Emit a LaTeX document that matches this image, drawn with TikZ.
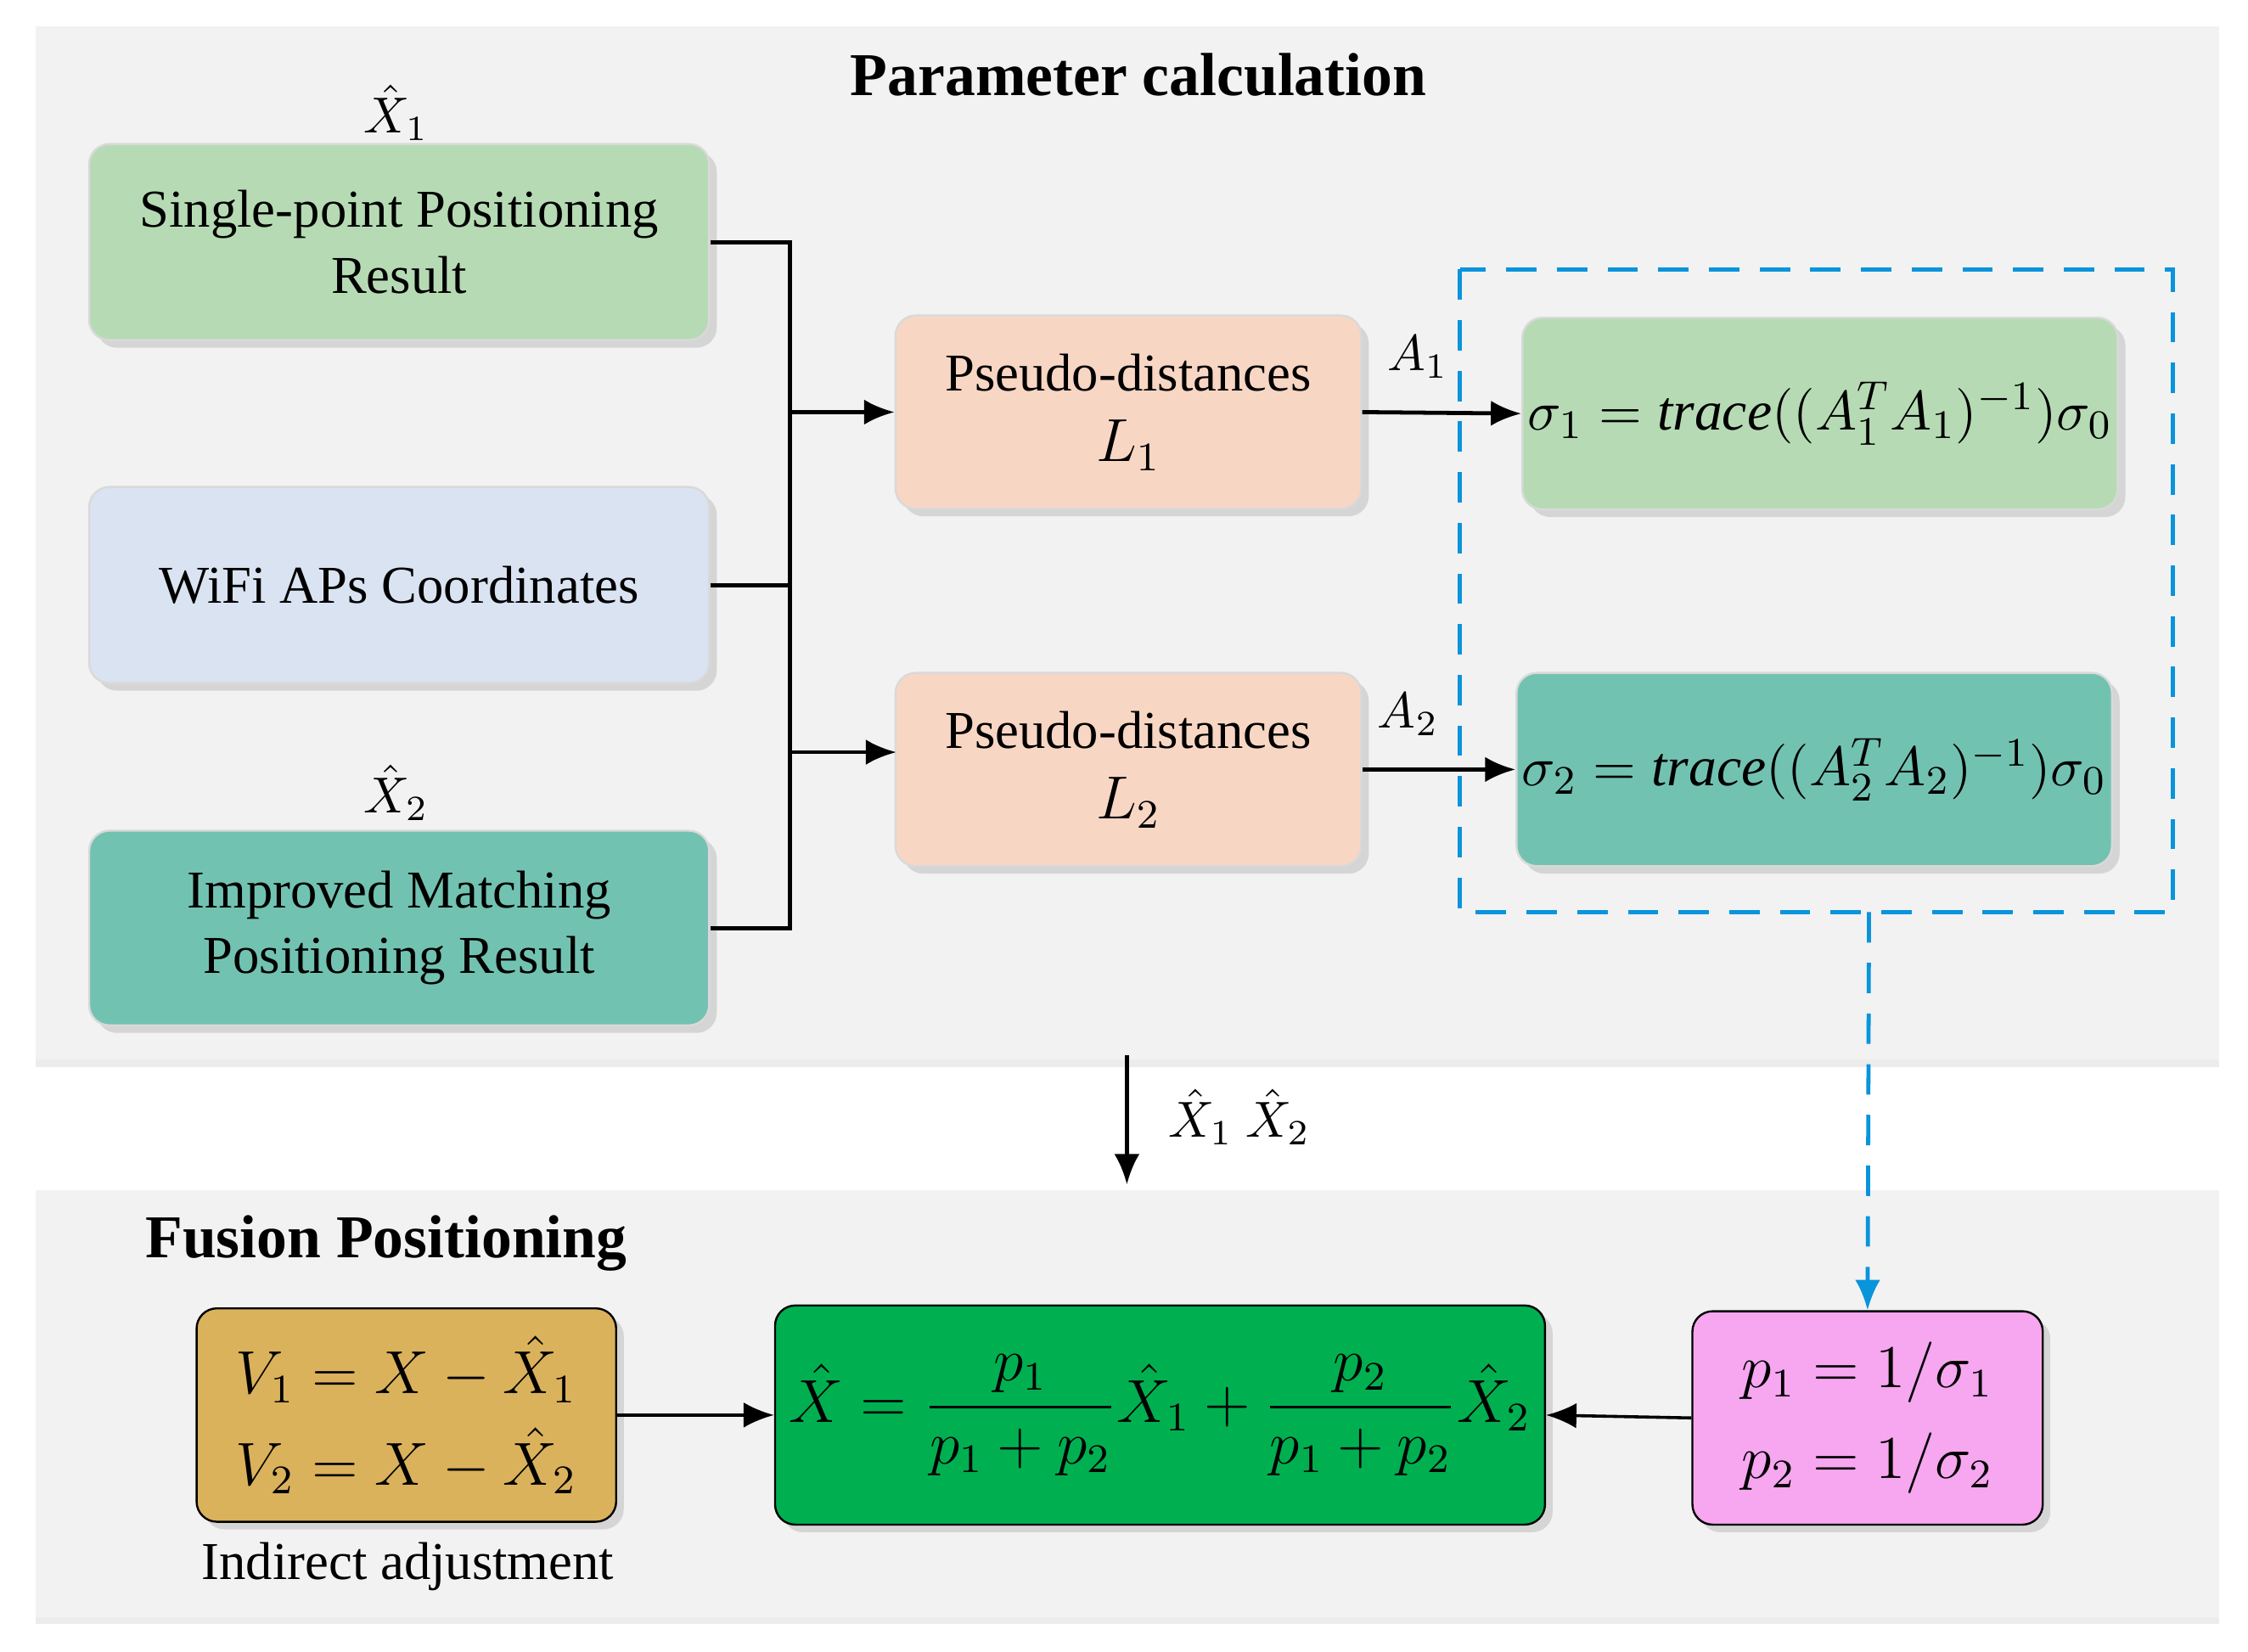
\documentclass[tikz,border=0pt]{standalone}
\usepackage{fontspec}
\setmainfont{Liberation Serif}
\usepackage{amsmath}
\usetikzlibrary{arrows.meta,shadows,positioning}
\begin{document}
\begin{tikzpicture}[x=0.01cm,y=-0.01cm,
  box/.style={draw=black!15,rounded corners=4pt,drop shadow={opacity=0.25,shadow xshift=1.5pt,shadow yshift=-1.5pt},align=center,font=\fontsize{10.5}{13}\selectfont,inner sep=0pt},
  panel/.style={fill=black!5,draw=none,drop shadow={opacity=0.15,shadow xshift=0pt,shadow yshift=-1.5pt}},
  arr/.style={-{Latex[length=6pt,width=5pt]},thick},
  ln/.style={thick},
  lbl/.style={font=\fontsize{10}{12}\selectfont}]
\useasboundingbox (0,0) rectangle (1560,1146);
\fill[white] (0,0) rectangle (1560,1146);
\fill[panel] (25,18) rectangle (1540,735);
\fill[panel] (25,826) rectangle (1540,1122);
\node[font=\fontsize{12}{14}\selectfont\bfseries] (t1) at (790,52) {Parameter calculation};
\node[font=\fontsize{12}{14}\selectfont\bfseries] (t2) at (268,863) {Fusion Positioning};
% left boxes
\node[box,fill={rgb,255:red,182;green,219;blue,180},minimum width=4.3cm,minimum height=1.36cm] (b1) at (277,168) {Single-point Positioning\\Result};
\node[box,fill={rgb,255:red,218;green,227;blue,242},minimum width=4.3cm,minimum height=1.36cm] (b2) at (277,406) {WiFi APs Coordinates};
\node[box,fill={rgb,255:red,114;green,194;blue,178},minimum width=4.3cm,minimum height=1.35cm] (b3) at (277,644) {Improved Matching\\Positioning Result};
\node[lbl] (x1) at (275,78) {$\hat{X}_1$};
\node[lbl] (x2) at (275,550) {$\hat{X}_2$};
% L boxes
\node[box,fill={rgb,255:red,248;green,214;blue,196},minimum width=3.23cm,minimum height=1.34cm] (l1) at (783,286) {Pseudo-distances\\[1pt] \fontsize{12}{14}\selectfont$L_1$};
\node[box,fill={rgb,255:red,248;green,214;blue,196},minimum width=3.23cm,minimum height=1.34cm] (l2) at (783,534) {Pseudo-distances\\[1pt] \fontsize{12}{14}\selectfont$L_2$};
% sigma boxes
\node[box,fill={rgb,255:red,182;green,219;blue,180},minimum width=4.13cm,minimum height=1.33cm,font=\fontsize{11}{13}\selectfont] (s1) at (1263,287) {$\sigma_1 = \mathit{trace}((A_1^T A_1)^{-1})\sigma_0$};
\node[box,fill={rgb,255:red,114;green,194;blue,178},minimum width=4.13cm,minimum height=1.34cm,font=\fontsize{11}{13}\selectfont] (s2) at (1259,534) {$\sigma_2 = \mathit{trace}((A_2^T A_2)^{-1})\sigma_0$};
\draw[cyan!80!blue,thick,dash pattern=on 6pt off 4pt] (1013,187) rectangle (1508,633);
\coordinate (dtop) at (1297,633);
% bus
\coordinate (bt) at (548,168);
\coordinate (bb) at (548,644);
\draw[ln] (b1.east) -- (bt) -- (bb) -- (b3.east);
\draw[ln] (b2.east) -- (548,406);
\draw[arr] (548,286) -- (l1.west);
\draw[arr] (548,522) -- (622,522);
\draw[arr] (l1.east) -- (s1.west) node[pos=0.35,above=3pt,lbl]{$A_1$};
\draw[arr] (l2.east) -- (s2.west) node[pos=0.3,above=3pt,lbl]{$A_2$};
% bottom
\node[box,draw=black,fill={rgb,255:red,218;green,178;blue,92},minimum width=2.91cm,minimum height=1.48cm,font=\fontsize{12}{14}\selectfont] (v) at (282,982) {$V_1 = X-\hat{X}_1$\\[4pt]$V_2 = X-\hat{X}_2$};
\node[font=\fontsize{10.5}{13}\selectfont] (ia) at (283,1087) {Indirect adjustment};
\node[box,draw=black,fill={rgb,255:red,0;green,176;blue,80},minimum width=5.34cm,minimum height=1.52cm,font=\fontsize{12}{14}\selectfont] (f) at (805,982) {$\hat{X} = \dfrac{p_1}{p_1+p_2}\hat{X}_1 + \dfrac{p_2}{p_1+p_2}\hat{X}_2$};
\node[box,draw=black,fill={rgb,255:red,247;green,166;blue,240},minimum width=2.43cm,minimum height=1.48cm,font=\fontsize{12}{14}\selectfont] (p) at (1296,984) {$p_1 = 1/\sigma_1$\\[4pt]$p_2 = 1/\sigma_2$};
\draw[arr,semithick] (v.east) -- (f.west);
\draw[arr,semithick] (p.west) -- (f.east);
\draw[-{Latex[length=6pt,width=5pt]},cyan!80!blue,thick,dash pattern=on 6pt off 4pt] (dtop) -- (p.north);
\coordinate (dt) at (782,732);
\coordinate (db) at (782,822);
\draw[arr] (dt) -- (db);
\node[lbl] (xx) at (860,775) {$\hat{X}_1\ \hat{X}_2$};
\end{tikzpicture}
\end{document}
